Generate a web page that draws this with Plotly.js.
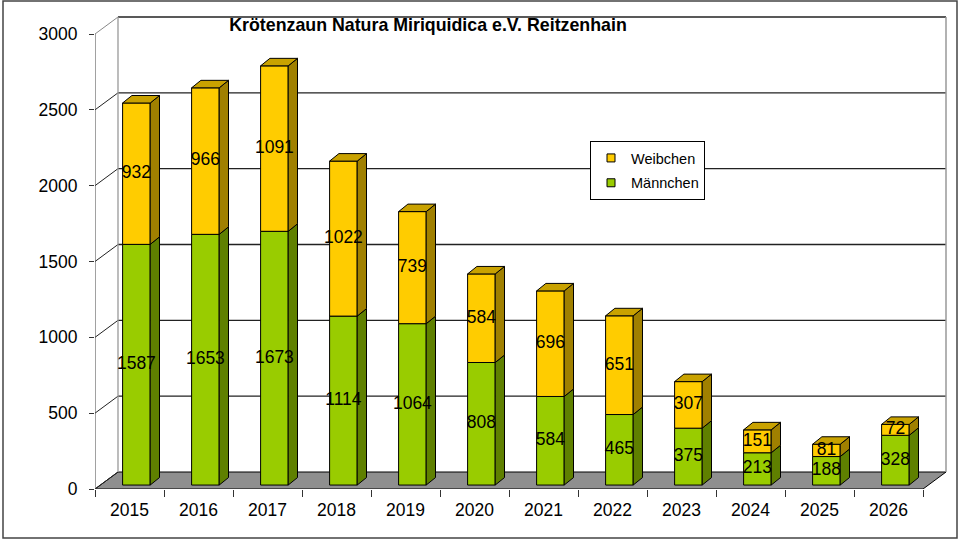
<!DOCTYPE html>
<html>
<head>
<meta charset="utf-8">
<script src="https://cdn.plot.ly/plotly-3.0.1.min.js"></script>
<style>html,body{margin:0;padding:0;background:#fff;}#chart{width:962px;height:540px;}</style>
</head>
<body>
<div id="chart"></div>
<script>
// ---- data ----
const years = ['2015','2016','2017','2018','2019','2020','2021','2022','2023','2024','2025','2026'];
const maennchen = [1587,1653,1673,1114,1064,808,584,465,375,213,188,328];
const weibchen  = [932,966,1091,1022,739,584,696,651,307,151,81,72];
const yTicks = [0,500,1000,1500,2000,2500,3000];
const titleText = 'Krötenzaun Natura Miriquidica e.V. Reitzenhain';

// ---- geometry (pseudo 3D) ----
const W = 962, H = 540;
const plotL = 95, plotR = 952, plotT = 10, plotB = 489;
const pxPerX = 69, pxPerY = 455/3000;
const xMin = -0.5, xMax = xMin + (plotR-plotL)/pxPerX;
const yMax = (plotB-plotT)/pxPerY;
const DX = 23/pxPerX, DY = 17/pxPerY;          // wall depth
const barOff = 0.1, barW = 0.4, barBase = 26;  // front face
const dxb = 9.3/pxPerX, dyb = 7.5/pxPerY;      // bar depth
const xs = years.map((_, i) => i);
const xLast = years.length - 0.5;
const FONT = 'Liberation Sans, Arial, sans-serif';

const idx = xs.map(i => i + barOff);
const baseM = xs.map(() => barBase);
const baseW = maennchen.map(m => barBase + m);

function sidePoly(y0s, y1s) {
  const X = [], Y = [];
  xs.forEach((i, k) => {
    const xr = i + barOff + barW/2;
    const a = y0s[k], b = y1s[k];
    X.push(xr, xr+dxb, xr+dxb, xr, xr, null);
    Y.push(a, a+dyb, b+dyb, b, a, null);
  });
  return {X, Y};
}
function topPoly(ts) {
  const X = [], Y = [];
  xs.forEach((i, k) => {
    const xl = i + barOff - barW/2, xr = i + barOff + barW/2, t = ts[k];
    X.push(xl, xl+dxb, xr+dxb, xr, xl, null);
    Y.push(t, t+dyb, t+dyb, t, t, null);
  });
  return {X, Y};
}
const topM = maennchen.map(m => barBase + m);
const topAll = maennchen.map((m, k) => barBase + m + weibchen[k]);
const sM = sidePoly(baseM, topM);
const sW = sidePoly(topM, topAll);
const tW = topPoly(topAll);
const midM = maennchen.map(m => barBase + m/2);
const midW = maennchen.map((m, k) => barBase + m + weibchen[k]/2);

const traces = [
  {type:'bar', x: idx, y: maennchen, base: baseM, width: barW, name:'Männchen', showlegend:false,
   marker:{color:'#99CC00', line:{color:'#000', width:1}}, hoverinfo:'skip'},
  {type:'bar', x: idx, y: weibchen, base: baseW, width: barW, name:'Weibchen', showlegend:false,
   marker:{color:'#FFCC00', line:{color:'#000', width:1}}, hoverinfo:'skip'},
  {type:'scatter', mode:'lines', x: sM.X, y: sM.Y, fill:'toself', fillcolor:'#5F8000',
   line:{color:'#000', width:1}, showlegend:false, hoverinfo:'skip'},
  {type:'scatter', mode:'lines', x: sW.X, y: sW.Y, fill:'toself', fillcolor:'#A08000',
   line:{color:'#000', width:1}, showlegend:false, hoverinfo:'skip'},
  {type:'scatter', mode:'lines', x: tW.X, y: tW.Y, fill:'toself', fillcolor:'#C9A200',
   line:{color:'#000', width:1}, showlegend:false, hoverinfo:'skip'},
  {type:'scatter', mode:'text', x: idx, y: midM, text: maennchen.map(String), textposition:'middle center',
   textfont:{family:FONT, size:17.5, color:'#000'}, cliponaxis:false, showlegend:false, hoverinfo:'skip'},
  {type:'scatter', mode:'text', x: idx, y: midW, text: weibchen.map(String), textposition:'middle center',
   textfont:{family:FONT, size:17.5, color:'#000'}, cliponaxis:false, showlegend:false, hoverinfo:'skip'},
  {type:'scatter', mode:'markers', x:[null], y:[null], name:'Weibchen', legendgroup:'w',
   marker:{symbol:'square', size:8, color:'#FFCC00', line:{color:'#000', width:1}}},
  {type:'scatter', mode:'markers', x:[null], y:[null], name:'Männchen', legendgroup:'m',
   marker:{symbol:'square', size:8, color:'#99CC00', line:{color:'#000', width:1}}}
];

// ---- frame shapes (walls, floor, gridlines) ----
const shapes = [];
shapes.push({type:'path', xref:'x', yref:'y', layer:'below',
  path:`M ${xMin},0 L ${xLast},0 L ${xLast+DX},${DY} L ${xMin+DX},${DY} Z`,
  fillcolor:'#8F8F8F', line:{color:'#000', width:1}});
yTicks.forEach(v => {
  if (v > 0) shapes.push({type:'line', xref:'x', yref:'y', layer:'below',
    x0:xMin+DX, x1:xLast+DX, y0:v+DY, y1:v+DY, line:{color:'#222', width:1.3}});
  shapes.push({type:'line', xref:'x', yref:'y', layer:'below',
    x0:xMin, x1:xMin+DX, y0:v, y1:v+DY, line:{color: v===3000 ? '#888' : '#222', width:1}});
});
shapes.push({type:'line', xref:'x', yref:'y', layer:'below', x0:xMin+DX, x1:xMin+DX, y0:DY, y1:3000+DY, line:{color:'#999', width:1.3}});
shapes.push({type:'line', xref:'x', yref:'y', layer:'below', x0:xLast+DX, x1:xLast+DX, y0:DY, y1:3000+DY, line:{color:'#999', width:1.5}});
shapes.push({type:'line', xref:'x', yref:'y', layer:'below', x0:xMin, x1:xMin, y0:0, y1:3000, line:{color:'#444', width:1}});
const plotWpx = plotR-plotL, plotHpx = plotB-plotT;
const px2paperX = p => (p-plotL)/plotWpx, px2paperY = p => (plotB-p)/plotHpx;
shapes.push({type:'rect', xref:'paper', yref:'paper', layer:'above',
  x0:px2paperX(3), x1:px2paperX(957), y0:px2paperY(538), y1:px2paperY(1),
  line:{color:'#444', width:1.5}, fillcolor:'rgba(0,0,0,0)'});

const layout = {
  width:W, height:H, autosize:false,
  margin:{l:plotL, r:W-plotR, t:plotT, b:H-plotB, pad:0},
  paper_bgcolor:'#fff', plot_bgcolor:'rgba(0,0,0,0)',
  barmode:'overlay',
  font:{family:FONT, color:'#000'},
  title:{text:'<b>'+titleText+'</b>', font:{family:FONT, size:17.8, color:'#000'},
    x:428/W, xanchor:'center', xref:'container', y:1-25/H, yanchor:'middle', yref:'container'},
  xaxis:{range:[xMin, xMax], tickvals:xs, ticktext:years, ticks:'', showgrid:false, zeroline:false, showline:false,
    tickfont:{family:FONT, size:17.5}, automargin:false, fixedrange:true, ticklabelstandoff:8,
    minor:{ticks:'outside', ticklen:7, tickcolor:'#333', tickwidth:1, tick0:-0.5, dtick:1, showgrid:false}},
  yaxis:{range:[0, yMax], tickvals:yTicks, ticks:'outside', ticklen:5, tickcolor:'#333', showgrid:false,
    zeroline:false, showline:false, tickfont:{family:FONT, size:17.5}, automargin:false, fixedrange:true,
    ticklabelstandoff:8},
  showlegend:true,
  legend:{x:px2paperX(590), y:px2paperY(141), xanchor:'left', yanchor:'top', bgcolor:'#fff',
    bordercolor:'#000', borderwidth:1, font:{family:FONT, size:14.5}, traceorder:'grouped', tracegroupgap:3},
  shapes:shapes
};

Plotly.newPlot('chart', traces, layout, {displayModeBar:false, staticPlot:true});
</script>
</body>
</html>
